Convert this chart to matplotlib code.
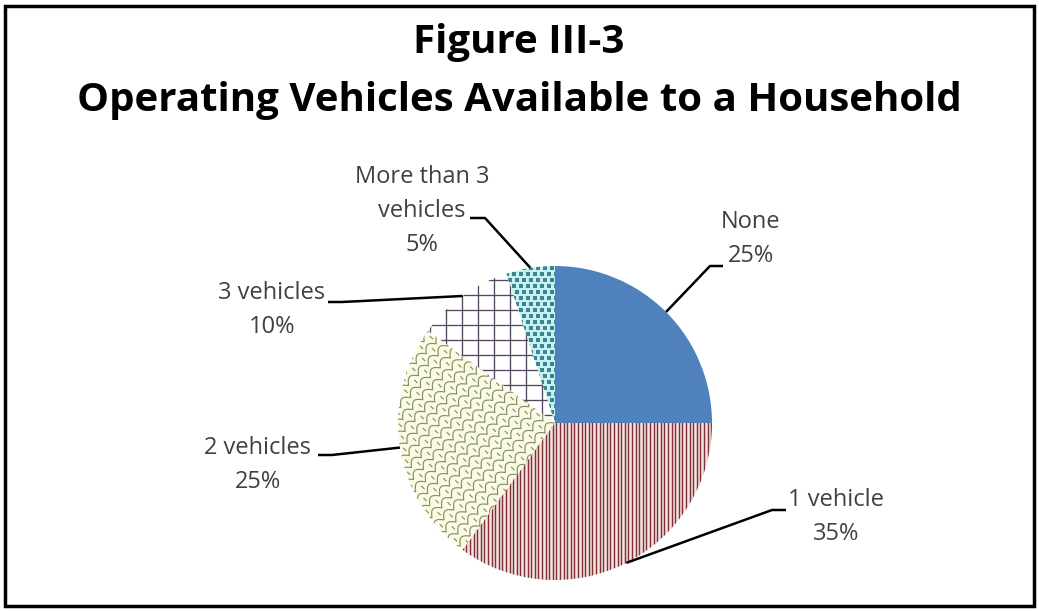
import numpy as np
import matplotlib
matplotlib.use("Agg")
import matplotlib.pyplot as plt
from matplotlib.patches import Rectangle
from matplotlib.collections import LineCollection

# Household vehicle availability (percent of households)
categories = ["None", "1 vehicle", "2 vehicles", "3 vehicles", "More than 3 vehicles"]
shares = [25, 35, 25, 10, 5]
label_lines = [["None"], ["1 vehicle"], ["2 vehicles"], ["3 vehicles"], ["More than 3", "vehicles"]]
title_lines = ["Figure III-3", "Operating Vehicles Available to a Household"]

W, H = 1039, 611
fig = plt.figure(figsize=(W / 100, H / 100), dpi=100)
ax = fig.add_axes([0, 0, 1, 1])

def py(y):
    """Convert a top-down pixel row into the axes' bottom-up coordinate."""
    return H - y

cx, cy, R = 555, py(423), 157
face = ["#4f81bd", "#f6e4e4", "#fbfbe4", "#ffffff", "#c9f0f0"]
wedges, _ = ax.pie(shares, startangle=90, counterclock=False, center=(cx, cy),
                   radius=R, colors=face, wedgeprops=dict(linewidth=0), frame=True)
ax.set_xlim(0, W)
ax.set_ylim(0, H)
ax.set_aspect("equal")
ax.axis("off")

# --- fill patterns, each clipped to its wedge ---
# 1 vehicle: fine vertical stripes
xs = np.arange(cx - R, cx + R, 3.6)
stripes = LineCollection([[(x, cy - R), (x, cy + R)] for x in xs],
                         colors="#7e3236", linewidths=1.05)
ax.add_collection(stripes)
stripes.set_clip_path(wedges[1])

# 2 vehicles: shingle / scale pattern along diagonal rows
d = np.array([np.cos(np.pi / 4), np.sin(np.pi / 4)])
n = np.array([-np.sin(np.pi / 4), np.cos(np.pi / 4)])
p, row = 14.0, 10.0
u = np.linspace(-2 * R, 2 * R, 3000)
segs = []
for j in range(-34, 35):
    off = (j % 2) * p / 2
    t = ((u + off) % p) / p
    v = j * row + 5.5 * np.sin(np.pi * t)
    segs.append(np.column_stack([cx + u * d[0] + v * n[0], cy + u * d[1] + v * n[1]]))
    # short ticks joining the scallop cusps to the row below
    for cu in np.arange(-2 * R, 2 * R, p) - off:
        a = np.array([cx, cy]) + cu * d + (j * row) * n
        segs.append(np.array([a, a - 4.5 * n]))
scales = LineCollection(segs, colors="#858e6c", linewidths=0.85)
ax.add_collection(scales)
scales.set_clip_path(wedges[2])

# 3 vehicles: square grid
gx = np.arange(cx - R, cx + R, 16)
gy = np.arange(cy - R, cy + R, 15)
grid = LineCollection([[(x, cy - R), (x, cy + R)] for x in gx] +
                      [[(cx - R, y), (cx + R, y)] for y in gy],
                      colors="#56465f", linewidths=0.95)
ax.add_collection(grid)
grid.set_clip_path(wedges[3])

# More than 3: staggered dots
dx, dy = 7.0, 6.0
dot_x, dot_y = [], []
for j, y in enumerate(np.arange(cy - R, cy + R, dy)):
    for x in np.arange(cx - R, cx + R, dx):
        dot_x.append(x + (j % 2) * dx / 2)
        dot_y.append(y)
dots = ax.scatter(dot_x, dot_y, s=5, marker="s", color="#3a8690", linewidths=0)
dots.set_clip_path(wedges[4])

# --- data labels with leader lines ---
label_font = dict(family=["Open Sans", "DejaVu Sans"], fontsize=17, color="#404040")
# (text centre x, first line y, elbow point, line end next to the text)
layout = [
    (751, 222, (710, 266), (723, 266)),
    (836, 500, (772, 510), (786, 510)),
    (258, 448, (332, 455), (318, 455)),
    (272, 293, (342, 302), (328, 302)),
    (422, 177, (485, 218), (470, 218)),
]
spacing = 34
for w, share, lines, (tx, ty, elbow, end) in zip(wedges, shares, label_lines, layout):
    mid = np.deg2rad((w.theta1 + w.theta2) / 2)
    anchor = (cx + R * np.cos(mid), cy + R * np.sin(mid))
    ax.plot([anchor[0], elbow[0], end[0]], [anchor[1], py(elbow[1]), py(end[1])],
            color="black", lw=1.8, solid_capstyle="butt")
    for k, s in enumerate(lines + [f"{share}%"]):
        ax.text(tx, py(ty + k * spacing), s, ha="center", va="center", **label_font)

# --- title ---
title_font = dict(family=["Open Sans", "DejaVu Sans"], fontweight="bold", fontsize=29, color="black")
ax.text(519, py(43), title_lines[0], ha="center", va="center", **title_font)
ax.text(519, py(100), title_lines[1], ha="center", va="center", **title_font)

# outer border
ax.add_patch(Rectangle((4.5, py(606)), 1029, 600, fill=False, lw=2.5, ec="black"))

fig.savefig("out.png", dpi=100)
